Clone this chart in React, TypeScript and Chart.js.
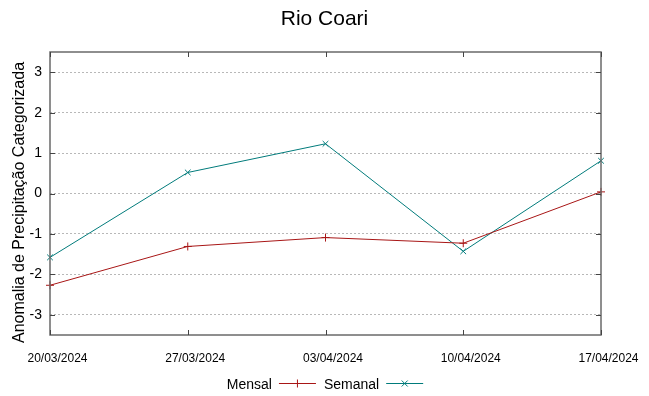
import React, { useEffect, useRef } from "react";
import { Chart, registerables } from "chart.js";
Chart.register(...registerables);

const categories = ["20/03/2024", "27/03/2024", "03/04/2024", "10/04/2024", "17/04/2024"];
const mensal = [-2.27, -1.31, -1.09, -1.23, 0.04];
const semanal = [-1.58, 0.52, 1.23, -1.43, 0.81];
const yTicks = [-3, -2, -1, 0, 1, 2, 3];
const chartTitle = "Rio Coari";
const yTitle = "Anomalia de Precipitação Categorizada";

const RED = "#a81616";
const TEAL = "#007b7b";
const FONT = "'Liberation Sans', Arial, sans-serif";

function drawMarker(ctx: CanvasRenderingContext2D, style: string, x: number, y: number, r: number) {
  ctx.beginPath();
  if (style === "cross") {
    ctx.moveTo(x - r, y); ctx.lineTo(x + r, y);
    ctx.moveTo(x, y - r); ctx.lineTo(x, y + r);
  } else {
    const d = r * 0.75;
    ctx.moveTo(x - d, y - d); ctx.lineTo(x + d, y + d);
    ctx.moveTo(x - d, y + d); ctx.lineTo(x + d, y - d);
  }
  ctx.stroke();
}

const decor = {
  id: "decor",
  afterDraw(chart: any) {
    const { ctx, chartArea: a, scales } = chart;
    ctx.save();
    // box
    ctx.strokeStyle = "#6a6a6a";
    ctx.lineWidth = 1.5;
    ctx.strokeRect(a.left, a.top, a.right - a.left, a.bottom - a.top);
    // inward ticks
    ctx.lineWidth = 1;
    ctx.strokeStyle = "#444";
    yTicks.forEach((v) => {
      const py = Math.round(scales.y.getPixelForValue(v)) + 0.5;
      ctx.beginPath();
      ctx.moveTo(a.right, py); ctx.lineTo(a.right - 5, py);
      ctx.moveTo(a.left, py); ctx.lineTo(a.left + 5, py);
      ctx.stroke();
    });
    categories.forEach((_, i) => {
      const px = Math.round(scales.x.getPixelForValue(i)) + 0.5;
      ctx.beginPath();
      ctx.moveTo(px, a.bottom); ctx.lineTo(px, a.bottom - 5);
      ctx.moveTo(px, a.top); ctx.lineTo(px, a.top + 5);
      ctx.stroke();
    });
    // title
    ctx.fillStyle = "#000";
    ctx.font = `21px ${FONT}`;
    ctx.textAlign = "center";
    ctx.textBaseline = "alphabetic";
    ctx.fillText(chartTitle, 324.5, 25);
    // y title
    ctx.save();
    ctx.translate(24, 202.5);
    ctx.rotate(-Math.PI / 2);
    ctx.font = `16px ${FONT}`;
    ctx.fillStyle = "#000";
    ctx.textAlign = "center";
    ctx.textBaseline = "alphabetic";
    ctx.fillText(yTitle, 0, 0);
    ctx.restore();
    // legend
    ctx.font = `14px ${FONT}`;
    ctx.textBaseline = "alphabetic";
    ctx.textAlign = "left";
    const ly = 383.5;
    const sample = 37;
    const items = chart.data.datasets.map((ds: any) => ({
      label: ds.label,
      color: ds.borderColor,
      style: ds.pointStyle,
      w: ctx.measureText(ds.label).width,
    }));
    const gapText = 7;
    const gapItem = 8;
    let total = 0;
    items.forEach((it: any, i: number) => {
      total += it.w + gapText + sample + (i < items.length - 1 ? gapItem : 0);
    });
    let x = 325 - total / 2;
    items.forEach((it: any) => {
      ctx.fillStyle = "#000";
      ctx.fillText(it.label, x, ly + 5);
      x += it.w + gapText;
      ctx.strokeStyle = it.color;
      ctx.lineWidth = 1;
      ctx.beginPath();
      ctx.moveTo(x, ly); ctx.lineTo(x + sample, ly);
      ctx.stroke();
      drawMarker(ctx, it.style, x + sample / 2, ly, 4);
      x += sample + gapItem;
    });
    ctx.restore();
  },
};

export default function App() {
  const ref = useRef<HTMLCanvasElement | null>(null);
  useEffect(() => {
    if (!ref.current) return;
    const chart = new Chart(ref.current, {
      type: "line",
      data: {
        labels: categories,
        datasets: [
          {
            label: "Mensal",
            data: mensal,
            borderColor: RED,
            backgroundColor: RED,
            borderWidth: 1,
            pointStyle: "cross",
            pointRadius: 4,
            pointBorderWidth: 1,
            tension: 0,
          },
          {
            label: "Semanal",
            data: semanal,
            borderColor: TEAL,
            backgroundColor: TEAL,
            borderWidth: 1,
            pointStyle: "crossRot",
            pointRadius: 4,
            pointBorderWidth: 1,
            tension: 0,
          },
        ],
      },
      options: {
        animation: false,
        responsive: false,
        layout: { padding: { top: 52, right: 48, bottom: 31, left: 0 } },
        plugins: { legend: { display: false }, title: { display: false }, tooltip: { enabled: false } },
        scales: {
          x: {
            type: "category",
            offset: false,
            grid: { display: false },
            border: { display: false },
            ticks: {
              maxRotation: 0,
              autoSkip: false,
              padding: 8,
              labelOffset: 7.5,
              color: "#000",
              font: { family: FONT, size: 12 },
            },
            afterFit: (s: any) => { s.height = 30; },
          },
          y: {
            min: -3.5,
            max: 3.5,
            afterBuildTicks: (s: any) => { s.ticks = yTicks.map((v) => ({ value: v })); },
            grid: {
              color: "#b8b8b8",
              lineWidth: 1,
              drawTicks: false,
            },
            border: { display: false, dash: [2, 2] },
            ticks: {
              padding: 8,
              color: "#000",
              font: { family: FONT, size: 14 },
            },
            afterFit: (s: any) => { s.width = 50; },
          },
        },
      },
      plugins: [decor],
    });
    return () => chart.destroy();
  }, []);
  return (
    <div style={{ position: "absolute", left: 0, top: 0, width: 649, height: 396 }}>
      <canvas ref={ref} width={649} height={396} />
    </div>
  );
}
